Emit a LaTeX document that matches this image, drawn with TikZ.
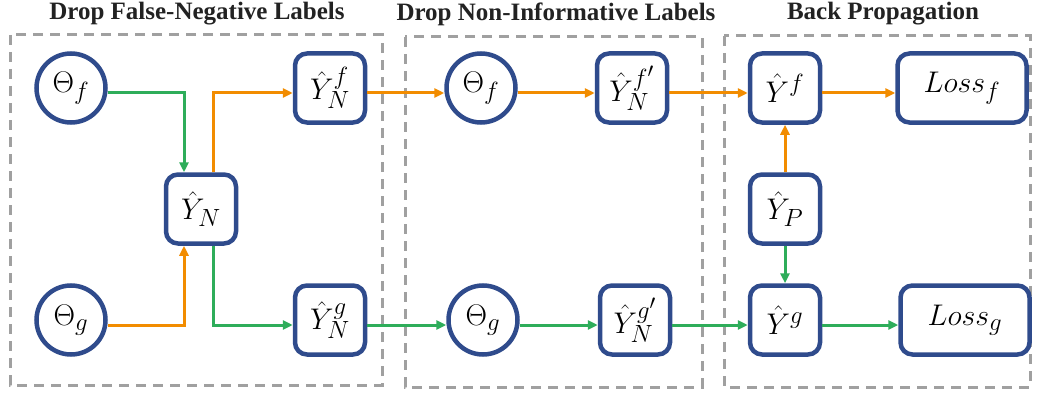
\documentclass[tikz,border=0pt]{standalone}
\usepackage{graphicx}
\usepackage{fontspec}
\setmainfont{Liberation Serif}
\usetikzlibrary{arrows.meta}
\definecolor{nodeblue}{HTML}{2F4B8C}
\definecolor{arrorange}{HTML}{F28C00}
\definecolor{arrgreen}{HTML}{2EAD5A}
\definecolor{dashgray}{HTML}{A0A0A0}
\definecolor{titlegray}{HTML}{222222}
\newcommand{\mylabelmath}[1]{\scalebox{1.2}{$#1$}}
\begin{document}
\begin{tikzpicture}[x=1pt,y=-1pt,
  circ/.style={circle,draw=nodeblue,line width=4.5pt,minimum size=69pt,inner sep=0pt,font=\fontsize{24.88}{27}\selectfont},
  sq/.style={rectangle,rounded corners=12pt,draw=nodeblue,line width=4.5pt,minimum width=70pt,minimum height=69pt,inner sep=0pt,font=\fontsize{24.88}{27}\selectfont},
  lossbox/.style={sq,minimum width=129pt},
  og/.style={draw=arrorange,line width=3pt,-{Triangle[length=10pt,width=9pt]}},
  gr/.style={draw=arrgreen,line width=3pt,-{Triangle[length=10pt,width=9pt]}},
  dbox/.style={draw=dashgray,line width=3pt,dash pattern=on 10pt off 7pt},
  ttl/.style={font=\bfseries\fontsize{25}{27}\selectfont,text=titlegray}]
\useasboundingbox (0,0) rectangle (1037,396);
% titles
\node[ttl] (t1) at (197,14) {Drop False-Negative Labels};
\node[ttl] (t2) at (556,14) {Drop Non-Informative Labels};
\node[ttl] (t3) at (883,14) {Back Propagation};
% dashed groups
\draw[dbox] (10,35) rectangle (382,385);
\draw[dbox] (405,37) rectangle (702,387);
\draw[dbox] (724,36) rectangle (1030,387);
% nodes
\node[circ] (tf1) at (71,88) {\mylabelmath{\Theta_f}};
\node[circ] (tg1) at (71,320) {\mylabelmath{\Theta_g}};
\node[sq] (yn) at (201,209) {\mylabelmath{\hat{Y}_N}};
\node[sq] (ynf) at (330,88) {\mylabelmath{\hat{Y}_N^{f}}};
\node[sq] (yng) at (330,320) {\mylabelmath{\hat{Y}_N^{g}}};
\node[circ] (tf2) at (481,88) {\mylabelmath{\Theta_f}};
\node[circ] (tg2) at (483,320) {\mylabelmath{\Theta_g}};
\node[sq] (ynf2) at (632,88) {\mylabelmath{\hat{Y}_N^{f'}}};
\node[sq] (yng2) at (635,320) {\mylabelmath{\hat{Y}_N^{g'}}};
\node[sq] (yf) at (785,88) {\mylabelmath{\hat{Y}^{f}}};
\node[sq] (yp) at (785,209) {\mylabelmath{\hat{Y}_P}};
\node[sq] (yg) at (785,320) {\mylabelmath{\hat{Y}^{g}}};
\node[lossbox] (lf) at (962,88) {\mylabelmath{Loss_f}};
\node[lossbox] (lg) at (965,320) {\mylabelmath{Loss_g}};
% connectors
\draw[gr] ([yshift=-5pt]tf1.east) -| ([xshift=-17pt]yn.north);
\draw[og] ([xshift=12pt]yn.north) |- ([yshift=-5pt]ynf.west);
\draw[og] ([yshift=-5pt]tg1.east) -| ([xshift=-17pt]yn.south);
\draw[gr] ([xshift=12pt]yn.south) |- ([yshift=-5pt]yng.west);
\draw[og] ([yshift=-5pt]ynf.east) -- ([yshift=-5pt]tf2.west);
\draw[og] ([yshift=-5pt]tf2.east) -- ([yshift=-5pt]ynf2.west);
\draw[og] ([yshift=-5pt]ynf2.east) -- ([yshift=-5pt]yf.west);
\draw[og] ([yshift=-5pt]yf.east) -- ([yshift=-5pt]lf.west);
\draw[gr] ([yshift=-5pt]yng.east) -- ([yshift=-5pt]tg2.west);
\draw[gr] ([yshift=-5pt]tg2.east) -- ([yshift=-5pt]yng2.west);
\draw[gr] ([yshift=-5pt]yng2.east) -- ([yshift=-5pt]yg.west);
\draw[gr] ([yshift=-5pt]yg.east) -- ([yshift=-5pt]lg.west);
\draw[og] (yp.north) -- (yf.south);
\draw[gr] (yp.south) -- (yg.north);
\end{tikzpicture}
\end{document}
